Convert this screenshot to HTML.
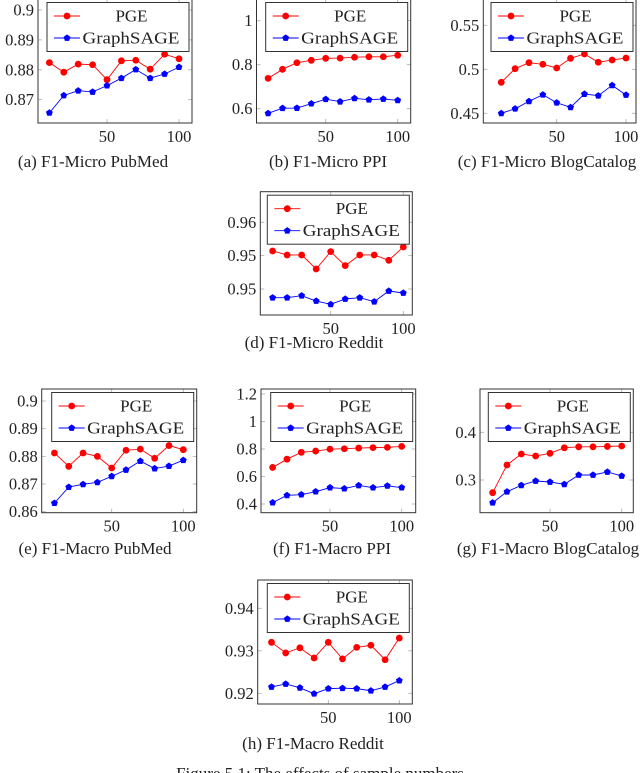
<!DOCTYPE html>
<html><head><meta charset="utf-8">
<style>
html,body{margin:0;padding:0;background:#fff;}
svg{display:block;font-family:"Liberation Serif",serif;}
</style></head>
<body>
<svg id="fig" width="640" height="773" viewBox="0 0 640 773" xmlns="http://www.w3.org/2000/svg"></svg>
<script>
// ---- data ----
const xValues = [10,20,30,40,50,60,70,80,90,100];
const xTickValues = [50,100];
const seriesNames = ["PGE","GraphSAGE"];

const pgeMicroPubmed = [0.8824,0.8792,0.8819,0.8817,0.8767,0.8830,0.8832,0.8802,0.8852,0.8837];
const sageMicroPubmed = [0.8656,0.8714,0.8730,0.8726,0.8747,0.8772,0.8801,0.8772,0.8786,0.8809];
const pgeMicroPpi = [0.738,0.779,0.809,0.820,0.829,0.830,0.834,0.836,0.836,0.843];
const sageMicroPpi = [0.579,0.602,0.603,0.623,0.643,0.632,0.647,0.641,0.644,0.638];
const pgeMicroBlog = [0.4852,0.5007,0.5075,0.5057,0.5015,0.5125,0.5174,0.5080,0.5106,0.5128];
const sageMicroBlog = [0.4500,0.4552,0.4636,0.4711,0.4620,0.4568,0.4719,0.4700,0.4818,0.4708];
const pgeMicroReddit = [0.9557,0.9551,0.9551,0.9530,0.9556,0.9535,0.9551,0.9551,0.9543,0.9563];
const sageMicroReddit = [0.9487,0.9487,0.9490,0.9482,0.9477,0.9485,0.9487,0.9481,0.9497,0.9494];
const pgeMacroPubmed = [0.8812,0.8764,0.8812,0.8800,0.8758,0.8822,0.8826,0.8793,0.8839,0.8824];
const sageMacroPubmed = [0.8631,0.8689,0.8699,0.8706,0.8728,0.8751,0.8783,0.8756,0.8765,0.8786];
const pgeMacroPpi = [0.666,0.726,0.776,0.785,0.799,0.802,0.807,0.810,0.812,0.819];
const sageMacroPpi = [0.410,0.463,0.468,0.490,0.519,0.512,0.535,0.519,0.532,0.519];
const pgeMacroBlog = [0.2734,0.3314,0.3545,0.3503,0.3559,0.3675,0.3696,0.3696,0.3704,0.3713];
const sageMacroBlog = [0.2524,0.2755,0.2889,0.2979,0.2958,0.2910,0.3105,0.3105,0.3168,0.3084];
const pgeMacroReddit = [0.9320,0.9295,0.9307,0.9283,0.9320,0.9281,0.9308,0.9313,0.9279,0.9330];
const sageMacroReddit = [0.9215,0.9222,0.9213,0.9199,0.9211,0.9212,0.9211,0.9206,0.9215,0.9230];

const yTicksMicroPubmed = [0.9,0.89,0.88,0.87];
const yLabelsMicroPubmed = ["0.9","0.89","0.88","0.87"];
const yTicksMicroPpi = [1,0.8,0.6];
const yLabelsMicroPpi = ["1","0.8","0.6"];
const yTicksMicroBlog = [0.55,0.5,0.45];
const yLabelsMicroBlog = ["0.55","0.5","0.45"];
const yTicksMicroReddit = [0.96,0.955,0.95];
const yLabelsMicroReddit = ["0.96","0.95","0.95"];
const yTicksMacroPubmed = [0.9,0.89,0.88,0.87,0.86];
const yLabelsMacroPubmed = ["0.9","0.89","0.88","0.87","0.86"];
const yTicksMacroPpi = [1.2,1,0.8,0.6,0.4];
const yLabelsMacroPpi = ["1.2","1","0.8","0.6","0.4"];
const yTicksMacroBlog = [0.4,0.3];
const yLabelsMacroBlog = ["0.4","0.3"];
const yTicksMacroReddit = [0.94,0.93,0.92];
const yLabelsMacroReddit = ["0.94","0.93","0.92"];

// ---- layout (pixels) ----
const panels = [
 {id:"a",cap:"(a) F1-Micro PubMed",L:38,R:192,T:-1,B:123,x50:107,x100:179,y0v:0.9,y0p:10,y1v:0.87,y1p:99.7,pge:pgeMicroPubmed,sage:sageMicroPubmed,yt:yTicksMicroPubmed,yl:yLabelsMicroPubmed,cx:93,cy:167},
 {id:"b",cap:"(b) F1-Micro PPI",L:256.5,R:410.7,T:-1,B:123,x50:325.7,x100:397.7,y0v:1,y0p:20.7,y1v:0.6,y1p:108.7,pge:pgeMicroPpi,sage:sageMicroPpi,yt:yTicksMicroPpi,yl:yLabelsMicroPpi,cx:328,cy:167},
 {id:"c",cap:"(c) F1-Micro BlogCatalog",L:483.3,R:636,T:-1,B:123,x50:556.7,x100:626,y0v:0.55,y0p:25.3,y1v:0.45,y1p:113.3,pge:pgeMicroBlog,sage:sageMicroBlog,yt:yTicksMicroBlog,yl:yLabelsMicroBlog,cx:547,cy:167},
 {id:"d",cap:"(d) F1-Micro Reddit",L:260.3,R:412.3,T:191.7,B:315,x50:330.7,x100:403.3,y0v:0.96,y0p:222.3,y1v:0.95,y1p:289,pge:pgeMicroReddit,sage:sageMicroReddit,yt:yTicksMicroReddit,yl:yLabelsMicroReddit,cx:314,cy:348},
 {id:"e",cap:"(e) F1-Macro PubMed",L:41.7,R:196.7,T:389,B:512.7,x50:111.7,x100:183.3,y0v:0.9,y0p:401,y1v:0.86,y1p:511.7,pge:pgeMacroPubmed,sage:sageMacroPubmed,yt:yTicksMacroPubmed,yl:yLabelsMacroPubmed,cx:95,cy:554},
 {id:"f",cap:"(f) F1-Macro PPI",L:261,R:415.7,T:389,B:512.7,x50:330,x100:401.7,y0v:1.2,y0p:394,y1v:0.4,y1p:504,pge:pgeMacroPpi,sage:sageMacroPpi,yt:yTicksMacroPpi,yl:yLabelsMacroPpi,cx:332,cy:554},
 {id:"g",cap:"(g) F1-Macro BlogCatalog",L:480,R:633.3,T:389,B:512.7,x50:550,x100:621.7,y0v:0.4,y0p:432.3,y1v:0.3,y1p:480,pge:pgeMacroBlog,sage:sageMacroBlog,yt:yTicksMacroBlog,yl:yLabelsMacroBlog,cx:548,cy:554},
 {id:"h",cap:"(h) F1-Macro Reddit",L:257.7,R:412.3,T:580,B:704,x50:328.3,x100:399.3,y0v:0.94,y0p:608.3,y1v:0.92,y1p:693.3,pge:pgeMacroReddit,sage:sageMacroReddit,yt:yTicksMacroReddit,yl:yLabelsMacroReddit,cx:313,cy:749}
];

const NS="http://www.w3.org/2000/svg";
const svg=document.getElementById("fig");
function mk(tag,attrs,parent){const e=document.createElementNS(NS,tag);for(const k in attrs)e.setAttribute(k,attrs[k]);(parent||svg).appendChild(e);return e;}
function pentagon(cx,cy,r){let p=[];for(let i=0;i<5;i++){const a=-Math.PI/2+i*2*Math.PI/5;p.push((cx+r*Math.cos(a)).toFixed(2)+","+(cy+r*Math.sin(a)).toFixed(2));}return p.join(" ");}
function drawMarker(g,kind,x,y,color){
  if(kind===0){const c=mk("circle",{cx:x,cy:y,r:3.4,fill:color},g);return c;}
  const p=mk("polygon",{points:pentagon(x,y,3.6),fill:color},g);return p;
}

panels.forEach(p=>{
  const g=mk("g",{});
  
  
  const xs=v=>p.x50+(v-50)*(p.x100-p.x50)/50;
  const ys=v=>p.y0p+(v-p.y0v)*(p.y1p-p.y0p)/(p.y1v-p.y0v);
  xTickValues.forEach(t=>{
    const x=xs(t);
    mk("line",{x1:x,x2:x,y1:p.B,y2:p.B-4,stroke:"#aaa","stroke-width":0.8},g);
    mk("line",{x1:x,x2:x,y1:p.T,y2:p.T+4,stroke:"#aaa","stroke-width":0.8},g);
    const tl=mk("text",{x:x,y:p.B+19,"text-anchor":"middle","font-size":16.5,fill:"#222"},g);
    tl.textContent=String(t);
    
    
  });
  p.yt.forEach((t,i)=>{
    const y=ys(t);
    mk("line",{x1:p.L,x2:p.L+4,y1:y,y2:y,stroke:"#aaa","stroke-width":0.8},g);
    mk("line",{x1:p.R,x2:p.R-4,y1:y,y2:y,stroke:"#aaa","stroke-width":0.8},g);
    const tl=mk("text",{x:p.L-4,y:y+5.5,"text-anchor":"end","font-size":16.5,fill:"#222"},g);
    tl.textContent=p.yl[i];
    
    
  });
  [p.pge,p.sage].forEach((vals,si)=>{
    const color=si===0?"#ff0000":"#0000ff";
    const sg=mk("g",{},g);
    
    
    const pts=vals.map((v,i)=>xs(xValues[i]).toFixed(2)+","+ys(v).toFixed(2)).join(" ");
    mk("polyline",{points:pts,fill:"none",stroke:color,"stroke-width":0.9},sg);
    vals.forEach((v,i)=>{
      const m=drawMarker(sg,si,xs(xValues[i]),ys(v),color);
      
      
    });
  });
  const fr=mk("rect",{x:p.L,y:p.T,width:p.R-p.L,height:p.B-p.T,fill:"none",stroke:"#333","stroke-width":1},g);
  
  
  const lw=142,lh=49,lx=p.R-3-lw,ly=p.T+3.5;
  const lg=mk("g",{},g);
  
  
  mk("rect",{x:lx,y:ly,width:lw,height:lh,fill:"#fff",stroke:"#333","stroke-width":1},lg);
  seriesNames.forEach((n,si)=>{
    const color=si===0?"#ff0000":"#0000ff";
    const ry=ly+13.5+si*22;
    const eg=mk("g",{},lg);
    
    
    mk("line",{x1:lx+7,x2:lx+33,y1:ry,y2:ry,stroke:color,"stroke-width":0.9},eg);
    drawMarker(eg,si,lx+20,ry,color);
    const t=mk("text",{"font-size":17,fill:"#222"},eg);
    if(si===0){t.setAttribute("x",lx+84.5);t.setAttribute("text-anchor","middle");t.setAttribute("y",ry+5.5);}
    else{t.setAttribute("x",lx+35.5);t.setAttribute("y",ry+5.5);t.setAttribute("textLength","97");t.setAttribute("lengthAdjust","spacingAndGlyphs");}
    t.textContent=n;
  });
  const c=mk("text",{x:p.cx,y:p.cy,"text-anchor":"middle","font-size":17,fill:"#222"});
  c.textContent=p.cap;
  
  
});
const fc=mk("text",{x:320,y:779,"text-anchor":"middle","font-size":17,fill:"#222"});
fc.textContent="Figure 5.1:  The effects of sample numbers";


</script>
</body></html>
